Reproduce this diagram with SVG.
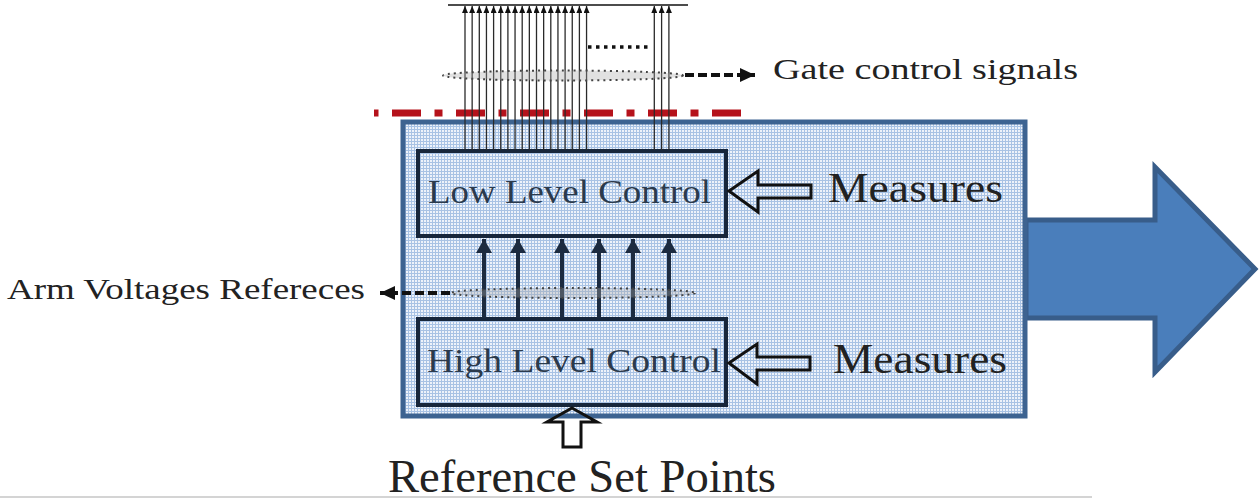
<svg xmlns="http://www.w3.org/2000/svg" width="1259" height="502" viewBox="0 0 1259 502">
<style>
.serif{font-family:"Liberation Serif","DejaVu Serif",serif;fill:#222}
.blk{fill:url(#grid);stroke:#17263b;stroke-width:4}
.thin{stroke:#2a2a2a;stroke-width:1.3;fill:none}
.thick{stroke:#1c2b40;stroke-width:4;fill:none}
.dash{stroke:#111;stroke-width:4;stroke-dasharray:9 4;fill:none}
.hollow{fill:none;stroke:#111;stroke-width:3;stroke-linejoin:miter}
.brace{fill:#aaa;fill-opacity:0.35;stroke:#444;stroke-width:2;stroke-dasharray:2 4}
</style>
<defs>
<pattern id="grid" width="3" height="3" patternUnits="userSpaceOnUse">
<rect width="3" height="3" fill="#edf2fa"/>
<path d="M0 0.5H3M0.5 0V3" stroke="#a8c2e4" stroke-width="1"/>
</pattern>
<marker id="tiny" markerUnits="userSpaceOnUse" markerWidth="7" markerHeight="6" refX="7" refY="3" orient="auto">
<path d="M0,0 L7,3 L0,6 z" fill="#111"/>
</marker>
<marker id="big" markerUnits="userSpaceOnUse" markerWidth="14" markerHeight="16" refX="14" refY="8" orient="auto">
<path d="M0,0 L14,8 L0,16 z" fill="#1c2b40"/>
</marker>
<marker id="dhead" markerUnits="userSpaceOnUse" markerWidth="15" markerHeight="14" refX="15" refY="7" orient="auto">
<path d="M0,0 L15,7 L0,14 z" fill="#111"/>
</marker>
</defs>
<rect width="1259" height="502" fill="#fff"/>
<line x1="0" y1="497" x2="1092" y2="497" stroke="#d4d4d4" stroke-width="2"/>
<line x1="374" y1="113" x2="741" y2="113" stroke="#b5121b" stroke-width="7" stroke-dasharray="29 13.5 8 13.5" stroke-dashoffset="46"/>
<g id="output-arrow">
<path d="M1026,220 L1155,220 L1155,167 L1255,269 L1155,372 L1155,318 L1026,318 Z" fill="#4a7ebb" stroke="#385d8a" stroke-width="5" stroke-linejoin="miter"/>
</g>
<g id="controller">
<rect x="403" y="122" width="622" height="294" fill="url(#grid)" stroke="#3d6391" stroke-width="5"/>
</g>
<g id="low-level-control">
<rect class="blk" x="418" y="151" width="308" height="85"/>
<text class="serif" x="428" y="203" font-size="33" textLength="283" lengthAdjust="spacingAndGlyphs" style="fill:#2b3a4c">Low Level Control</text>
</g>
<g id="high-level-control">
<rect class="blk" x="418" y="319" width="308" height="86"/>
<text class="serif" x="427" y="372" font-size="33" textLength="294" lengthAdjust="spacingAndGlyphs" style="fill:#2b3a4c">High Level Control</text>
</g>
<g id="measures-low">
<text class="serif" x="828" y="202" font-size="43" textLength="175" lengthAdjust="spacingAndGlyphs">Measures</text>
</g>
<g id="measures-high">
<text class="serif" x="833" y="373" font-size="43" textLength="174" lengthAdjust="spacingAndGlyphs">Measures</text>
</g>
<g id="gate-label">
<text class="serif" x="773" y="79" font-size="30" textLength="305" lengthAdjust="spacingAndGlyphs">Gate control signals</text>
</g>
<g id="arm-label">
<text class="serif" x="7" y="299" font-size="29" textLength="358" lengthAdjust="spacingAndGlyphs">Arm Voltages Refereces</text>
</g>
<g id="reference-label">
<text class="serif" x="388" y="492" font-size="46" textLength="388" lengthAdjust="spacingAndGlyphs">Reference Set Points</text>
</g>
<g id="connectors">
<line x1="448" y1="5" x2="688" y2="5" stroke="#111" stroke-width="1.5"/>
<g class="thin" marker-end="url(#tiny)">
<line x1="465" y1="150" x2="465" y2="6"/>
<line x1="472.15" y1="150" x2="472.15" y2="6"/>
<line x1="479.3" y1="150" x2="479.3" y2="6"/>
<line x1="486.45" y1="150" x2="486.45" y2="6"/>
<line x1="493.6" y1="150" x2="493.6" y2="6"/>
<line x1="500.75" y1="150" x2="500.75" y2="6"/>
<line x1="507.9" y1="150" x2="507.9" y2="6"/>
<line x1="515.05" y1="150" x2="515.05" y2="6"/>
<line x1="522.2" y1="150" x2="522.2" y2="6"/>
<line x1="529.35" y1="150" x2="529.35" y2="6"/>
<line x1="536.5" y1="150" x2="536.5" y2="6"/>
<line x1="543.65" y1="150" x2="543.65" y2="6"/>
<line x1="550.8" y1="150" x2="550.8" y2="6"/>
<line x1="557.95" y1="150" x2="557.95" y2="6"/>
<line x1="565.1" y1="150" x2="565.1" y2="6"/>
<line x1="572.25" y1="150" x2="572.25" y2="6"/>
<line x1="579.4" y1="150" x2="579.4" y2="6"/>
<line x1="586.55" y1="150" x2="586.55" y2="6"/>
<line x1="654.3" y1="150" x2="654.3" y2="6"/>
<line x1="661.6" y1="150" x2="661.6" y2="6"/>
<line x1="668.9" y1="150" x2="668.9" y2="6"/>
</g>
<line x1="588" y1="47" x2="651" y2="47" stroke="#111" stroke-width="3.5" stroke-dasharray="3.5 4.5"/>
<ellipse class="brace" cx="563" cy="75.5" rx="120" ry="5"/>
<line class="dash" x1="685" y1="75" x2="755" y2="75" marker-end="url(#dhead)"/>
<g class="thick" marker-end="url(#big)">
<line x1="484" y1="318" x2="484" y2="239"/>
<line x1="518" y1="318" x2="518" y2="239"/>
<line x1="562" y1="318" x2="562" y2="239"/>
<line x1="599" y1="318" x2="599" y2="239"/>
<line x1="633" y1="318" x2="633" y2="239"/>
<line x1="669" y1="318" x2="669" y2="239"/>
</g>
<ellipse class="brace" cx="573" cy="293" rx="122" ry="5"/>
<line class="dash" x1="450" y1="293" x2="380" y2="293" marker-end="url(#dhead)"/>
<path class="hollow" d="M729,191 L758,171 L758,185 L811,185 L811,198 L758,198 L758,212 Z"/>
<path class="hollow" d="M729,363 L757,344 L757,357 L810,357 L810,370 L757,370 L757,384 Z"/>
<path class="hollow" d="M572,408 L597,422 L581,422 L581,447 L563,447 L563,422 L547,422 Z"/>
</g>
</svg>
